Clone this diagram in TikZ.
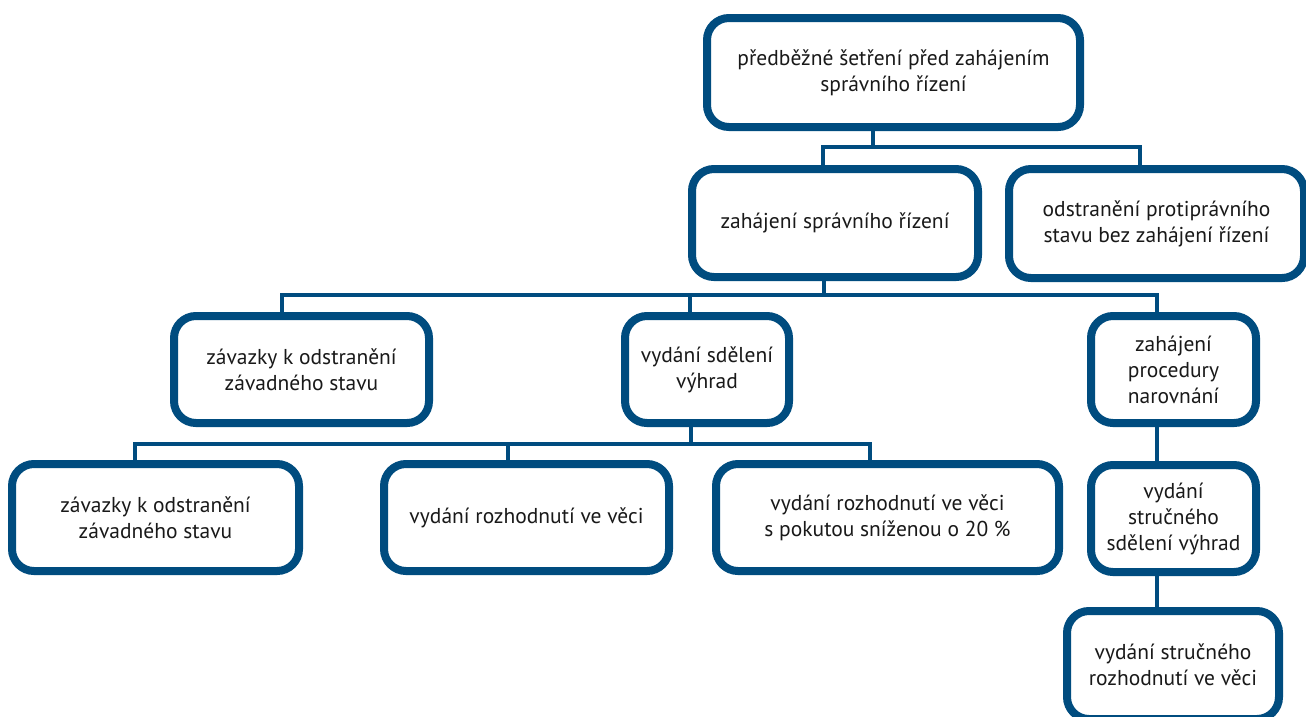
\documentclass[tikz,border=0pt]{standalone}
\usepackage{fontspec}
\setmainfont{PT Sans}
\usetikzlibrary{backgrounds}
\definecolor{boxblue}{RGB}{0,76,127}
\begin{document}
\begin{tikzpicture}[x=1pt,y=-1pt,
  box/.style={draw=boxblue,line width=8pt,fill=white,rounded corners=22pt,
    inner sep=0pt,align=center,font=\fontsize{21.5}{26}\selectfont,text=black!90},
  conn/.style={draw=boxblue,line width=4pt}]
\useasboundingbox (0,0) rectangle (1306,716);
% junction coordinates
\coordinate (h1L) at (823,147);
\coordinate (h1R) at (1140,147);
\coordinate (h1M) at (873,147);
\coordinate (h2L) at (282,295);
\coordinate (h2R) at (1157,295);
\coordinate (h2M) at (824,295);
\coordinate (h3L) at (135,444);
\coordinate (h3R) at (870,444);
\coordinate (h3M) at (691,444);
% boxes
\path
 (893.5,72.5) node[box,minimum width=373pt,minimum height=109pt] (b1) {předběžné šetření před zahájením\\správního řízení}
 (835,223) node[box,minimum width=286pt,minimum height=108pt] (b2) {zahájení správního řízení}
 (1156.5,223.5) node[box,minimum width=295pt,minimum height=109pt] (b3) {odstranění protiprávního\\stavu bez zahájení řízení}
 (301.5,369.5) node[box,minimum width=255pt,minimum height=107pt] (b4) {závazky k odstranění\\závadného stavu}
 (707,369.5) node[box,minimum width=164pt,minimum height=107pt] (b5) {vydání sdělení\\výhrad}
 (1173.5,369.5) node[box,minimum width=165pt,minimum height=107pt] (b6) {zahájení\\procedury\\narovnání}
 (155.5,517.5) node[box,minimum width=287pt,minimum height=107pt] (b7) {závazky k odstranění\\závadného stavu}
 (526.5,517.5) node[box,minimum width=285pt,minimum height=107pt] (b8) {vydání rozhodnutí ve věci}
 (887.5,517.5) node[box,minimum width=343pt,minimum height=107pt] (b9) {vydání rozhodnutí ve věci\\s pokutou sníženou o 20~\%}
 (1173.5,518.5) node[box,minimum width=165pt,minimum height=107pt] (b10) {vydání\\stručného\\sdělení výhrad}
 (1173,665) node[box,minimum width=212pt,minimum height=108pt] (b11) {vydání stručného\\rozhodnutí ve věci};
% connectors
\begin{scope}[on background layer]
 \draw[conn] ([xshift=-20.5pt]b1.south) -- (h1M);
 \draw[conn] ([xshift=-12pt]b2.north) -- (h1L) -- (h1R) -- ([xshift=-16.5pt]b3.north);
 \draw[conn] ([xshift=-11pt]b2.south) -- (h2M);
 \draw[conn] ([xshift=-19.5pt]b4.north) -- (h2L) -- (h2R) -- ([xshift=-16.5pt]b6.north);
 \draw[conn] (h2L -| b5.north) ++(-17,0) coordinate (d5) -- ([xshift=-17pt]b5.north);
 \draw[conn] ([xshift=-16pt]b5.south) -- (h3M);
 \draw[conn] ([xshift=-20.5pt]b7.north) -- (h3L) -- (h3R) -- ([xshift=-17.5pt]b9.north);
 \draw[conn] ([xshift=-18.5pt]b8.north) -- ([xshift=-18.5pt]b8.north |- h3L);
 \draw[conn] ([xshift=-16.5pt]b6.south) -- ([xshift=-16.5pt]b10.north);
 \draw[conn] ([xshift=-16.5pt]b10.south) -- ([xshift=-16pt]b11.north);
\end{scope}
\end{tikzpicture}
\end{document}
